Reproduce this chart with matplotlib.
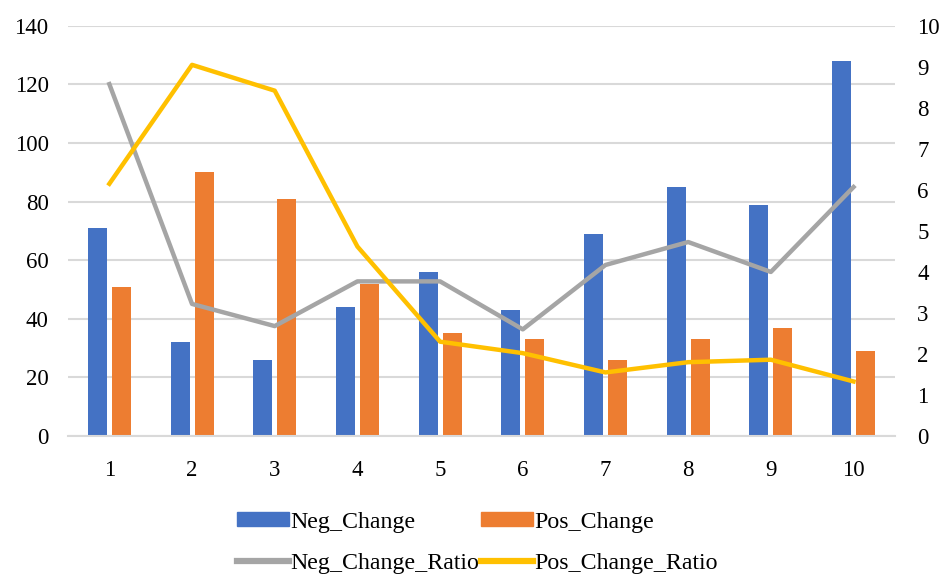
import numpy as np
import matplotlib
matplotlib.use("Agg")
import matplotlib.pyplot as plt
from matplotlib.lines import Line2D
from matplotlib.patches import Patch

plt.rcParams['font.family'] = ['Liberation Serif', 'DejaVu Serif']

# data
cats = [1, 2, 3, 4, 5, 6, 7, 8, 9, 10]
neg_change = [71, 32, 26, 44, 56, 43, 69, 85, 79, 128]
pos_change = [51, 90, 81, 52, 35, 33, 26, 33, 37, 29]
neg_ratio = [8.58, 3.22, 2.68, 3.77, 3.77, 2.6, 4.17, 4.73, 4.0, 6.07]
pos_ratio = [6.15, 9.05, 8.42, 4.62, 2.3, 2.02, 1.55, 1.8, 1.86, 1.33]

blue = '#4472C4'
orange = '#ED7D31'
gray = '#A5A5A5'
gold = '#FFC000'

fig = plt.figure(figsize=(9.51, 5.88), dpi=100)
ax = fig.add_axes([0.0715, 0.2585, 0.8695, 0.6975])
x = np.arange(len(cats))
w = 0.23
ax.bar(x - 0.145, neg_change, w, color=blue, zorder=2)
ax.bar(x + 0.145, pos_change, w, color=orange, zorder=2)
ax.set_ylim(0, 140)
ax.set_yticks(range(0, 141, 20))
ax.set_xlim(-0.5, len(cats) - 0.5)
ax.set_xticks(x)
ax.set_xticklabels([str(c) for c in cats])
ax.grid(axis='y', color='#d9d9d9', linewidth=1.5, zorder=0)
ax.set_axisbelow(True)
for s in ['top', 'right', 'left']:
    ax.spines[s].set_visible(False)
ax.spines['bottom'].set_color('#d9d9d9')
ax.spines['bottom'].set_linewidth(1.5)
ax.tick_params(axis='y', length=0, labelsize=16.5, pad=14)
ax.tick_params(axis='x', length=0, labelsize=16.5, pad=17)

ax2 = ax.twinx()
ax2.plot(x, neg_ratio, color=gray, linewidth=3.2, zorder=3)
ax2.plot(x, pos_ratio, color=gold, linewidth=3.2, zorder=3)
ax2.set_ylim(0, 10)
ax2.set_yticks(range(0, 11))
for s in ['top', 'right', 'left', 'bottom']:
    ax2.spines[s].set_visible(False)
ax2.tick_params(length=0, labelsize=16.5, pad=16)

# column-wise fill, so order gives rows: bars on top, lines below
handles = [Patch(color=blue), Line2D([], [], color=gray, linewidth=4.5),
           Patch(color=orange), Line2D([], [], color=gold, linewidth=4.5)]
labels = ['Neg_Change', 'Neg_Change_Ratio', 'Pos_Change', 'Pos_Change_Ratio']
fig.legend(handles, labels, loc='center', bbox_to_anchor=(0.502, 0.077), ncol=2,
           frameon=False, fontsize=17.2, handlelength=2.2, handleheight=0.55,
           handletextpad=0.05, columnspacing=0.05, labelspacing=0.85)

fig.savefig('out.png', dpi=100)
